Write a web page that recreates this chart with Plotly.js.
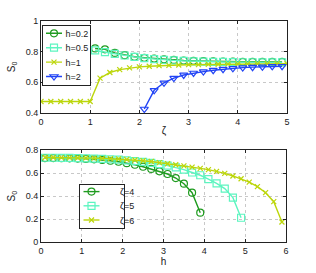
<!DOCTYPE html>
<html><head><meta charset="utf-8">
<script src="https://cdn.plot.ly/plotly-3.0.1.min.js"></script>
<style>html,body{margin:0;padding:0;background:#fff}#plot{width:316px;height:273px}</style>
</head><body><div id="plot"></div>
<script>
// Top panel: S0 vs zeta
var zetaOdd = [1.1,1.3,1.5,1.7,1.9,2.1,2.3,2.5,2.7,2.9,3.1,3.3,3.5,3.7,3.9,4.1,4.3,4.5,4.7,4.9];
var s_h02 = [0.821,0.815,0.792,0.777,0.767,0.760,0.755,0.750,0.746,0.742,0.740,0.738,0.737,0.736,0.735,0.734,0.734,0.733,0.733,0.733];
var s_h05 = [0.808,0.797,0.785,0.775,0.766,0.758,0.752,0.747,0.743,0.740,0.737,0.735,0.734,0.733,0.732,0.731,0.731,0.730,0.730,0.730];
var zetaEven = [0,0.2,0.4,0.6,0.8,1.0,1.2,1.4,1.6,1.8,2.0,2.2,2.4,2.6,2.8,3.0,3.2,3.4,3.6,3.8,4.0,4.2,4.4,4.6,4.8,5.0];
var s_h1 = [0.475,0.475,0.475,0.475,0.475,0.475,0.627,0.664,0.683,0.694,0.701,0.705,0.709,0.711,0.713,0.715,0.716,0.717,0.718,0.719,0.720,0.720,0.721,0.721,0.722,0.722];
var zetaH2 = [2.1,2.3,2.5,2.7,2.9,3.1,3.3,3.5,3.7,3.9,4.1,4.3,4.5,4.7,4.9];
var s_h2 = [0.426,0.548,0.597,0.628,0.648,0.661,0.670,0.679,0.686,0.691,0.696,0.699,0.701,0.704,0.705];
// Bottom panel: S0 vs h
var h4 = [0.1,0.3,0.5,0.7,0.9,1.1,1.3,1.5,1.7,1.9,2.1,2.3,2.5,2.7,2.9,3.1,3.3,3.5,3.7,3.9];
var s_z4 = [0.730,0.730,0.729,0.728,0.726,0.723,0.719,0.714,0.707,0.698,0.686,0.672,0.655,0.636,0.615,0.592,0.557,0.508,0.430,0.257];
var h5 = [0.1,0.3,0.5,0.7,0.9,1.1,1.3,1.5,1.7,1.9,2.1,2.3,2.5,2.7,2.9,3.1,3.3,3.5,3.7,3.9,4.1,4.3,4.5,4.7,4.9];
var s_z5 = [0.733,0.733,0.732,0.731,0.730,0.728,0.726,0.723,0.720,0.716,0.710,0.704,0.697,0.688,0.678,0.665,0.650,0.630,0.605,0.581,0.548,0.511,0.465,0.387,0.213];
var h6 = [0.1,0.3,0.5,0.7,0.9,1.1,1.3,1.5,1.7,1.9,2.1,2.3,2.5,2.7,2.9,3.1,3.3,3.5,3.7,3.9,4.1,4.3,4.5,4.7,4.9,5.1,5.3,5.5,5.7,5.9];
var s_z6 = [0.735,0.735,0.734,0.734,0.733,0.732,0.730,0.728,0.725,0.722,0.718,0.713,0.707,0.700,0.691,0.681,0.672,0.663,0.652,0.641,0.630,0.615,0.598,0.575,0.551,0.522,0.482,0.430,0.352,0.176];
var topNames = ['h=0.2','h=0.5','h=1','h=2'];
var botNames = ['ζ=4','ζ=5','ζ=6'];

var cGreen = '#1f9b1f', cAqua = '#5cf5c0', cYel = '#bcd60a', cBlue = '#2244f5';
function tr(x, y, name, color, sym, xa, ya, leg){
  return {x:x, y:y, name:name, type:'scatter', mode:'lines+markers', xaxis:xa, yaxis:ya, legend:leg,
    line:{color:color, width:1.4},
    marker:{symbol:sym, size: sym==='x-thin-open'?5:7, color:color, line:{color:color, width:1.2}}};
}
var data = [
  tr(zetaOdd, s_h02, topNames[0], cGreen, 'circle-open', 'x', 'y', 'legend'),
  tr(zetaOdd, s_h05, topNames[1], cAqua, 'square-open', 'x', 'y', 'legend'),
  tr(zetaEven, s_h1, topNames[2], cYel, 'x-thin-open', 'x', 'y', 'legend'),
  tr(zetaH2, s_h2, topNames[3], cBlue, 'triangle-down-open', 'x', 'y', 'legend'),
  tr(h4, s_z4, botNames[0], cGreen, 'circle-open', 'x2', 'y2', 'legend2'),
  tr(h5, s_z5, botNames[1], cAqua, 'square-open', 'x2', 'y2', 'legend2'),
  tr(h6, s_z6, botNames[2], cYel, 'x-thin-open', 'x2', 'y2', 'legend2')
];
var FAM = 'Liberation Sans, Arial, sans-serif';
var tf = {family:FAM, size:9, color:'#222'};
function ax(extra){
  return Object.assign({showline:true, linecolor:'#222', linewidth:1, mirror:'allticks',
    ticks:'inside', ticklen:3, tickcolor:'#222', tickfont:tf, showgrid:true,
    gridcolor:'#c8c8c8', griddash:'dot', gridwidth:1, zeroline:false, fixedrange:true}, extra);
}
var W=316, H=273;
var layout = {
  width:W, height:H, margin:{l:0,r:0,t:0,b:0}, paper_bgcolor:'#fff', plot_bgcolor:'#fff',
  font:tf, showlegend:true,
  xaxis: ax({domain:[41/W, 287/W], range:[0,5], tickvals:[0,1,2,3,4,5], anchor:'y',
    title:{text:'ζ', font:{size:10, family:FAM, color:'#222'}, standoff:1}}),
  yaxis: ax({domain:[(H-113)/H, (H-21)/H], range:[0.4,1], tickvals:[0.4,0.6,0.8,1], ticktext:['0.4','0.6','0.8','1'], anchor:'x',
    title:{text:'S<sub>0</sub>', font:{size:10, family:FAM, color:'#222'}, standoff:8}}),
  xaxis2: ax({domain:[41/W, 286/W], range:[0,6], tickvals:[0,1,2,3,4,5,6], anchor:'y2',
    title:{text:'h', font:{size:10, family:FAM, color:'#222'}, standoff:0}}),
  yaxis2: ax({domain:[(H-242.3)/H, (H-150)/H], range:[0,0.8], tickvals:[0,0.2,0.4,0.6,0.8], ticktext:['0','0.2','0.4','0.6','0.8'], anchor:'x2',
    title:{text:'S<sub>0</sub>', font:{size:10, family:FAM, color:'#222'}, standoff:8}}),
  legend:{x:41.5/W, y:(H-25)/H, xanchor:'left', yanchor:'top', bgcolor:'#fff', bordercolor:'#222', borderwidth:1,
    font:{size:9, family:FAM, color:'#222'}, itemwidth:30, tracegroupgap:0},
  legend2:{x:79/W, y:(H-184)/H, xanchor:'left', yanchor:'top', bgcolor:'#fff', bordercolor:'#222', borderwidth:1,
    font:{size:9, family:FAM, color:'#222'}, itemwidth:30, tracegroupgap:0}
};
function compactLegends(gd){
  var specs = {legend:{w:48.5, step:14.4, pad:8.3, tx:24}, legend2:{w:45, step:14.2, pad:7.6, tx:23}};
  Object.keys(specs).forEach(function(id){
    var lg = gd.querySelector('g.' + id);
    if (!lg) return;
    var sp = specs[id];
    var items = lg.querySelectorAll('g.traces');
    items.forEach(function(it, i){
      it.setAttribute('transform', 'translate(1,' + (sp.pad + i*sp.step) + ')');
      it.querySelectorAll('g.legendlines path').forEach(function(p){ p.setAttribute('d', 'M3.5,0h16'); });
      it.querySelectorAll('g.legendpoints path').forEach(function(p){ p.setAttribute('transform', 'translate(11.5,0)'); });
      it.querySelectorAll('text.legendtext').forEach(function(t){ t.setAttribute('x', sp.tx - 1); });
    });
    var bg = lg.querySelector('rect.bg');
    if (bg) { bg.setAttribute('width', sp.w); bg.setAttribute('height', 2*sp.pad + (items.length-1)*sp.step); }
  });
}
Plotly.newPlot('plot', data, layout, {staticPlot:true, displayModeBar:false}).then(function(gd){ compactLegends(gd); });
</script></body></html>
